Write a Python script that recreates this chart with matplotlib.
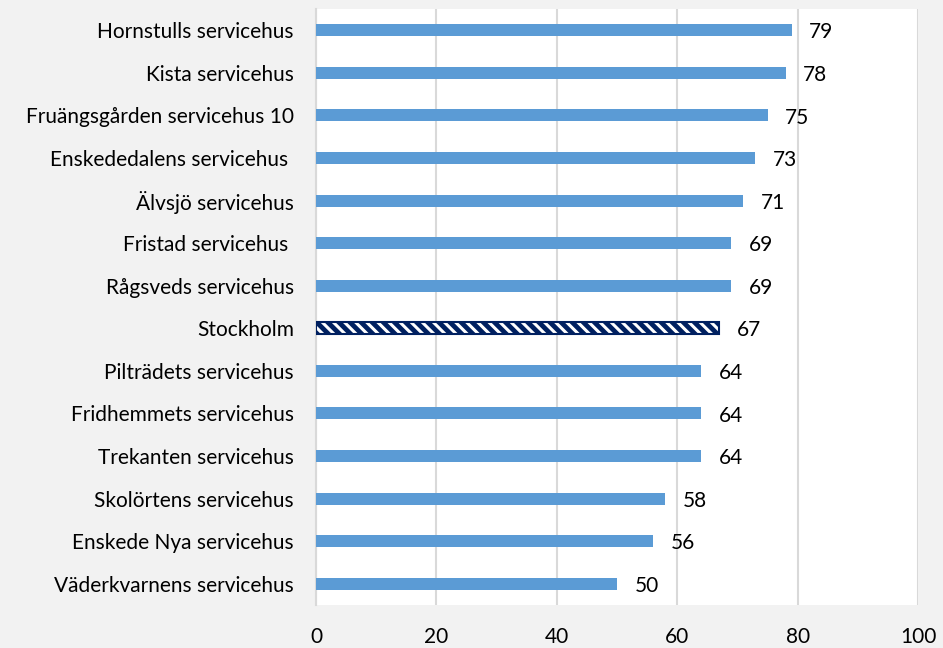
import numpy as np
import matplotlib.pyplot as plt

plt.rcParams['font.family'] = ['Lato', 'DejaVu Sans']
plt.rcParams['hatch.linewidth'] = 2.2

names = ['Hornstulls servicehus', 'Kista servicehus', 'Fruängsgården servicehus 10',
         'Enskededalens servicehus ', 'Älvsjö servicehus', 'Fristad servicehus ',
         'Rågsveds servicehus', 'Stockholm', 'Pilträdets servicehus',
         'Fridhemmets servicehus', 'Trekanten servicehus', 'Skolörtens servicehus',
         'Enskede Nya servicehus', 'Väderkvarnens servicehus']
values = [79, 78, 75, 73, 71, 69, 69, 67, 64, 64, 64, 58, 56, 50]
highlight = 'Stockholm'

fig = plt.figure(figsize=(9.43, 6.48), dpi=100, facecolor='#f2f2f2')
ax = fig.add_axes([0.3351, 0.0664, 0.6384, 0.9197])
ax.set_facecolor('white')

y = np.arange(len(names))
for i, (n, v) in enumerate(zip(names, values)):
    if n == highlight:
        ax.barh(i, v, height=0.28, color='#002060', edgecolor='white', hatch='\\\\\\', linewidth=0, zorder=3)
        ax.barh(i, v, height=0.28, fill=False, edgecolor='#002060', linewidth=1.5, zorder=4)
    else:
        ax.barh(i, v, height=0.28, color='#5b9bd5', zorder=3)
    ax.text(v + 2.9, i + 0.05, str(v), va='center', ha='left', fontsize=15, color='black')

ax.set_xlim(0, 100)
ax.set_ylim(len(names) - 0.5, -0.5)
ax.set_xticks(np.arange(0, 101, 20))
ax.set_yticks(y)
ax.set_yticklabels(names, fontsize=15)
ax.tick_params(axis='x', labelsize=15, pad=16, length=0)
ax.tick_params(axis='y', length=0, pad=16)
ax.grid(axis='x', color='#d9d9d9', linewidth=1.5, zorder=0)
for s in ['top', 'right', 'bottom']:
    ax.spines[s].set_visible(False)
ax.spines['left'].set_color('#d9d9d9')
ax.spines['left'].set_linewidth(1.5)

fig.savefig('out.png', dpi=100, facecolor=fig.get_facecolor())
